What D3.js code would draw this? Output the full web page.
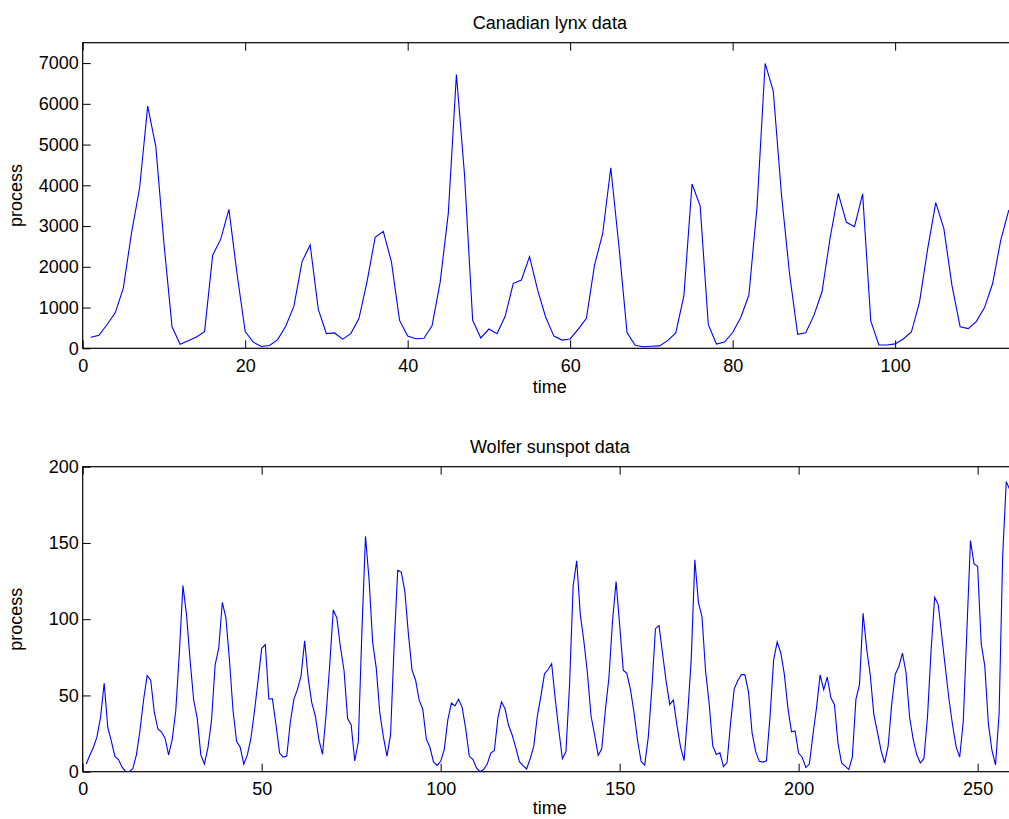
<!DOCTYPE html>
<html>
<head>
<meta charset="utf-8">
<script src="https://cdn.jsdelivr.net/npm/d3@7"></script>
<style>
  body { margin: 0; background: #fff; }
  text { font-family: "Liberation Sans", Arial, Helvetica, sans-serif; font-size: 18px; fill: #000; }
</style>
</head>
<body>
<svg id="fig" width="1009" height="819"></svg>
<script>
// Annual Canadian lynx trappings, 1821-1934
const lynxCounts = [
  269, 321, 585, 871, 1475, 2821, 3928, 5943, 4950, 2577,
  523, 98, 184, 279, 409, 2285, 2685, 3409, 1824, 409,
  151, 45, 68, 213, 546, 1033, 2129, 2536, 957, 361,
  377, 225, 360, 731, 1638, 2725, 2871, 2119, 684, 299,
  236, 245, 552, 1623, 3311, 6721, 4254, 687, 255, 473,
  358, 784, 1594, 1676, 2251, 1426, 756, 299, 201, 229,
  469, 736, 2042, 2811, 4431, 2511, 389, 73, 39, 49,
  59, 188, 377, 1292, 4031, 3495, 587, 105, 153, 387,
  758, 1307, 3465, 6991, 6313, 3794, 1836, 345, 382, 808,
  1388, 2713, 3800, 3091, 2985, 3790, 674, 81, 80, 108,
  229, 399, 1132, 2432, 3574, 2935, 1537, 529, 485, 662,
  1000, 1590, 2657, 3396
];
const lynxTicksX = [0, 20, 40, 60, 80, 100, 120];
const lynxTicksY = [0, 1000, 2000, 3000, 4000, 5000, 6000, 7000];

// Annual Wolfer sunspot numbers, 1700-1959
const sunspotNumbers = [
  5, 11, 16, 23, 36, 58, 29, 20, 10, 8,
  3, 0, 0, 2, 11, 27, 47, 63, 60, 39,
  28, 26, 22, 11, 21, 40, 78, 122, 103, 73,
  47, 35, 11, 5, 16, 34, 70, 81, 111, 101,
  73, 40, 20, 16, 5, 11, 22, 40, 60, 80.9,
  83.4, 47.7, 47.8, 30.7, 12.2, 9.6, 10.2, 32.4, 47.6, 54,
  62.9, 85.9, 61.2, 45.1, 36.4, 20.9, 11.4, 37.8, 69.8, 106.1,
  100.8, 81.6, 66.5, 34.8, 30.6, 7, 19.8, 92.5, 154.4, 125.9,
  84.8, 68.1, 38.5, 22.8, 10.2, 24.1, 82.9, 132, 130.9, 118.1,
  89.9, 66.6, 60, 46.9, 41, 21.3, 16, 6.4, 4.1, 6.8,
  14.5, 34, 45, 43.1, 47.5, 42.2, 28.1, 10.1, 8.1, 2.5,
  0, 1.4, 5, 12.2, 13.9, 35.4, 45.8, 41.1, 30.1, 23.9,
  15.6, 6.6, 4, 1.8, 8.5, 16.6, 36.3, 49.6, 64.2, 67,
  70.9, 47.8, 27.5, 8.5, 13.2, 56.9, 121.5, 138.3, 103.2, 85.7,
  64.6, 36.7, 24.2, 10.7, 15, 40.1, 61.5, 98.5, 124.7, 96.3,
  66.6, 64.5, 54.1, 39, 20.6, 6.7, 4.3, 22.7, 54.8, 93.8,
  95.8, 77.2, 59.1, 44, 47, 30.5, 16.3, 7.3, 37.6, 74,
  139, 111.2, 101.6, 66.2, 44.7, 17, 11.3, 12.4, 3.4, 6,
  32.3, 54.3, 59.7, 63.7, 63.5, 52.2, 25.4, 13.1, 6.8, 6.3,
  7.1, 35.6, 73, 85.1, 78, 64, 41.8, 26.2, 26.7, 12.1,
  9.5, 2.7, 5, 24.4, 42, 63.5, 53.8, 62, 48.5, 43.9,
  18.6, 5.7, 3.6, 1.4, 9.6, 47.4, 57.1, 103.9, 80.6, 63.6,
  37.6, 26.1, 14.2, 5.8, 16.7, 44.3, 63.9, 69, 77.8, 64.9,
  35.7, 21.2, 11.1, 5.7, 8.7, 36.1, 79.7, 114.4, 109.6, 88.8,
  67.8, 47.5, 30.6, 16.3, 9.6, 33.2, 92.6, 151.6, 136.3, 134.7,
  83.9, 69.4, 31.5, 13.9, 4.4, 38, 141.7, 190.2, 184.8, 159
];
const sunspotTicksX = [0, 50, 100, 150, 200, 250];
const sunspotTicksY = [0, 50, 100, 150, 200];

const svg = d3.select("#fig");
const left = 82.7, right = 1017;
const tickLen = 8;

// One framed time-series panel: box with inward ticks on all four sides,
// labelled left/bottom axes, blue series line clipped to the box.
function panel(cfg) {
  const { id, values, yMax, xTicks, yTicks, title, top, bottom, xLabelGap } = cfg;
  const n = values.length;
  const x = d3.scaleLinear().domain([0, n + 1]).range([left, right]);
  const y = d3.scaleLinear().domain([0, yMax]).range([bottom, top]);
  const g = svg.append("g");

  g.append("clipPath").attr("id", "clip-" + id)
    .append("rect").attr("x", left).attr("y", top)
    .attr("width", right - left).attr("height", bottom - top);

  const styleAxis = sel => {
    sel.select(".domain").remove();
    sel.selectAll(".tick line").attr("stroke", "#000").attr("stroke-width", 1);
    sel.selectAll(".tick text")
      .style("font-family", '"Liberation Sans", Arial, sans-serif')
      .style("font-size", "18px").attr("fill", "#000");
  };

  const shownX = xTicks.filter(t => x(t) <= right);

  g.append("g").attr("transform", `translate(0,${bottom})`)
    .call(d3.axisBottom(x).tickValues(shownX).tickFormat(d3.format("d"))
      .tickSizeInner(-tickLen).tickSizeOuter(0).tickPadding(10.5))
    .call(styleAxis);
  g.append("g").attr("transform", `translate(0,${top})`)
    .call(d3.axisTop(x).tickValues(shownX).tickFormat("")
      .tickSizeInner(-tickLen).tickSizeOuter(0))
    .call(styleAxis);
  g.append("g").attr("transform", `translate(${left},0)`)
    .call(d3.axisLeft(y).tickValues(yTicks).tickFormat(d3.format("d"))
      .tickSizeInner(-tickLen).tickSizeOuter(0).tickPadding(4))
    .call(styleAxis);
  g.append("g").attr("transform", `translate(${right},0)`)
    .call(d3.axisRight(y).tickValues(yTicks).tickFormat("")
      .tickSizeInner(-tickLen).tickSizeOuter(0))
    .call(styleAxis);

  g.append("rect")
    .attr("x", left).attr("y", top)
    .attr("width", right - left).attr("height", bottom - top)
    .attr("fill", "none").attr("stroke", "#000").attr("stroke-width", 1.2);

  const line = d3.line().x((d, i) => x(i + 1)).y(d => y(d));
  g.append("path").datum(values)
    .attr("clip-path", `url(#clip-${id})`)
    .attr("fill", "none").attr("stroke", "#0000ff").attr("stroke-width", 1.1)
    .attr("stroke-linejoin", "miter")
    .attr("d", line);

  g.append("text").attr("x", (left + right) / 2).attr("y", top - 14)
    .attr("text-anchor", "middle").text(title);
  g.append("text").attr("x", (left + right) / 2).attr("y", bottom + xLabelGap)
    .attr("text-anchor", "middle").text("time");
  g.append("text")
    .attr("transform", `translate(22,${(top + bottom) / 2}) rotate(-90)`)
    .attr("text-anchor", "middle").text("process");
}

panel({ id: "lynx", values: lynxCounts, yMax: 7500, xTicks: lynxTicksX, yTicks: lynxTicksY,
        title: "Canadian lynx data", top: 42.7, bottom: 348.3, xLabelGap: 45 });
panel({ id: "sun", values: sunspotNumbers, yMax: 200, xTicks: sunspotTicksX, yTicks: sunspotTicksY,
        title: "Wolfer sunspot data", top: 466.7, bottom: 771.7, xLabelGap: 42 });
</script>
</body>
</html>
